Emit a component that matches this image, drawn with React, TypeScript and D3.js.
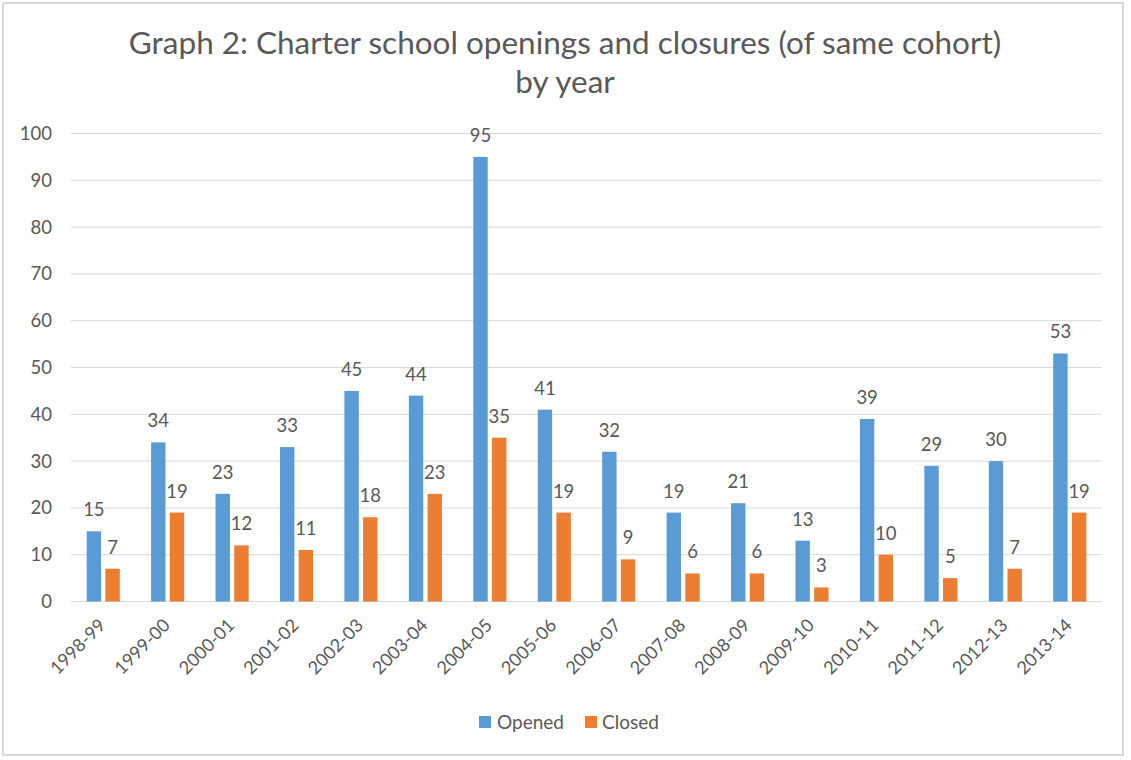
import React from 'react';
import * as d3 from 'd3';

const years = ['1998-99', '1999-00', '2000-01', '2001-02', '2002-03', '2003-04', '2004-05', '2005-06', '2006-07', '2007-08', '2008-09', '2009-10', '2010-11', '2011-12', '2012-13', '2013-14'];
const opened = [15, 34, 23, 33, 45, 44, 95, 41, 32, 19, 21, 13, 39, 29, 30, 53];
const closed = [7, 19, 12, 11, 18, 23, 35, 19, 9, 6, 6, 3, 10, 5, 7, 19];
const yTicks = [0, 10, 20, 30, 40, 50, 60, 70, 80, 90, 100];

const W = 1131;
const H = 760;
const FONT = 'Lato, "Open Sans", sans-serif';
const TEXT = '#595959';
const BLUE = '#5B9BD5';
const ORANGE = '#ED7D31';

const App = () => {
  const x = d3.scaleBand().domain(years).range([71, 1102]);
  const y = d3.scaleLinear().domain([0, 100]).range([601.5, 133.5]);
  const barW = 14.4;
  const gap = 4.3;

  return (
    <div style={{ position: 'absolute', left: 0, top: 0 }}>
      <svg width={W} height={H} style={{ display: 'block', fontFamily: FONT }}>
        <rect x={0} y={0} width={W} height={H} fill="#fff" />
        <rect x={3} y={3} width={1120} height={752} fill="none" stroke="#d9d9d9" strokeWidth={2} />

        <text x={565} y={54} textAnchor="middle" fontSize={31.5} fill={TEXT}>
          Graph 2: Charter school openings and closures (of same cohort)
        </text>
        <text x={565} y={93} textAnchor="middle" fontSize={31.5} fill={TEXT}>
          by year
        </text>

        {yTicks.map((t) => (
          <g key={t}>
            <line x1={71} x2={1102} y1={y(t)} y2={y(t)} stroke="#d9d9d9" strokeWidth={1} />
            <text x={52} y={y(t)} dy="0.35em" textAnchor="end" fontSize={18.5} fill={TEXT}>
              {t}
            </text>
          </g>
        ))}

        {years.map((yr, i) => {
          const c = (x(yr) ?? 0) + x.bandwidth() / 2;
          const ox = c - gap / 2 - barW;
          const cx = c + gap / 2;
          return (
            <g key={yr}>
              <rect x={ox} y={y(opened[i])} width={barW} height={y(0) - y(opened[i])} fill={BLUE} />
              <rect x={cx} y={y(closed[i])} width={barW} height={y(0) - y(closed[i])} fill={ORANGE} />
              <text x={ox + barW / 2} y={y(opened[i]) - 15} textAnchor="middle" fontSize={18.5} fill={TEXT}>
                {opened[i]}
              </text>
              <text x={cx + barW / 2} y={y(closed[i]) - 15} textAnchor="middle" fontSize={18.5} fill={TEXT}>
                {closed[i]}
              </text>
              <text
                transform={`translate(${c - 1},${622}) rotate(-45)`}
                textAnchor="end"
                dy="0.35em"
                fontSize={18}
                fill={TEXT}
              >
                {yr}
              </text>
            </g>
          );
        })}

        <rect x={479} y={716} width={12} height={12} fill={BLUE} />
        <text x={497} y={722} dy="0.35em" fontSize={19} fill={TEXT}>Opened</text>
        <rect x={585} y={716} width={12} height={12} fill={ORANGE} />
        <text x={602} y={722} dy="0.35em" fontSize={19} fill={TEXT}>Closed</text>
      </svg>
    </div>
  );
};

export default App;
